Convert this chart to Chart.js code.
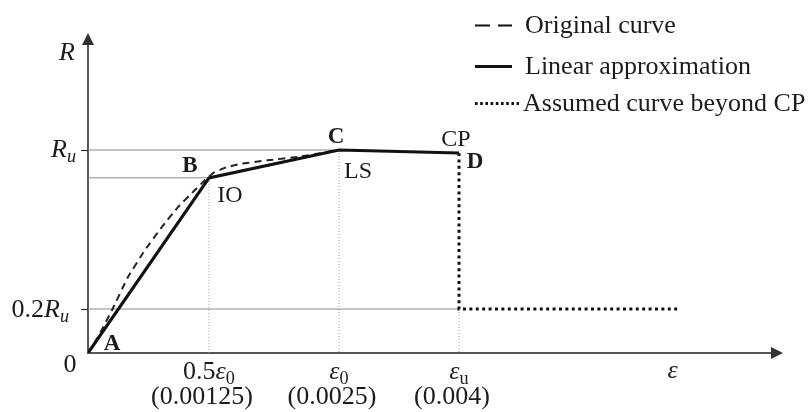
<!DOCTYPE html>
<html><head><meta charset="utf-8">
<script src="https://cdn.jsdelivr.net/npm/chart.js@4.4.1/dist/chart.umd.min.js"></script>
<style>html,body{margin:0;padding:0;background:#fff}#wrap{width:809px;height:412px;position:relative}</style>
</head><body><div id="wrap"><canvas id="c" width="809" height="412"></canvas></div>
<script>
// ---------------- data ----------------
const pointNames = ['A', 'B', 'C', 'D'];
const linearStrain = [0, 0.00125, 0.0025, 0.004];
const linearR = [0, 0.86, 1.0, 0.985];
const originalStrain = [0, 0.000103, 0.000248, 0.000413, 0.000589, 0.000764, 0.00093, 0.001105, 0.001209, 0.00129, 0.0014, 0.00155, 0.00181, 0.00213, 0.00232, 0.0025];
const originalR = [0, 0.073, 0.195, 0.361, 0.497, 0.613, 0.713, 0.799, 0.849, 0.884, 0.91, 0.93, 0.948, 0.967, 0.984, 1.0];
const assumedStrain = [0.004, 0.004, 0.0067];
const assumedR = [0.985, 0.2, 0.2];
const levelNames = ['IO', 'LS', 'CP'];           // at B, C, D
const xTickStrain = [0.00125, 0.0025, 0.004];
const xTickMain = [[['0.5', 'n'], ['ε', 'i'], ['0', 's']], [['ε', 'i'], ['0', 's']], [['ε', 'i'], ['u', 's']]];
const xTickSub = ['(0.00125)', '(0.0025)', '(0.004)'];
const yTickValues = [0.2, 1];
const yTickLabels = [[['0.2', 'n'], ['R', 'i'], ['u', 'si']], [['R', 'i'], ['u', 'si']]];
const legendLabels = ['Original curve', 'Linear approximation', 'Assumed curve beyond CP'];

// ---------------- schematic (piecewise-linear) scale ----------------
const knotMap = {
  x: { v: [0, 0.00125, 0.0025, 0.004, 0.008], f: [0, 121 / 695, 251 / 695, 371 / 695, 1] },
  y: { v: [0, 0.2, 1, 1.6], f: [0, 44 / 320, 203 / 320, 1] }
};
function interp(val, a, b) {
  let i = 0;
  while (i < a.length - 2 && val > a[i + 1]) i++;
  return b[i] + (val - a[i]) / (a[i + 1] - a[i]) * (b[i + 1] - b[i]);
}
class SchematicScale extends Chart.LinearScale {
  getPixelForValue(value) {
    const k = knotMap[this.id];
    return this.getPixelForDecimal(interp(value, k.v, k.f));
  }
  getValueForPixel(pixel) {
    const k = knotMap[this.id];
    return interp(this.getDecimalForPixel(pixel), k.f, k.v);
  }
}
SchematicScale.id = 'schematic';
SchematicScale.defaults = {};
Chart.register(SchematicScale);

// ---------------- helpers ----------------
const FONT = '"Liberation Serif", "Times New Roman", serif';
const INK = '#1c1c1c';
function fontFor(style, size) {
  const sub = style.includes('s');
  const sz = sub ? size * 0.7 : size;
  return (style.includes('i') ? 'italic ' : '') + (style.includes('b') ? 'bold ' : '') + sz.toFixed(1) + 'px ' + FONT;
}
function drawRich(ctx, segs, x, y, size, align) {
  let w = 0;
  segs.forEach(([t, s]) => { ctx.font = fontFor(s, size); w += ctx.measureText(t).width; });
  let cx = align === 'right' ? x - w : align === 'center' ? x - w / 2 : x;
  segs.forEach(([t, s]) => {
    ctx.font = fontFor(s, size);
    const dy = s.includes('s') ? size * 0.2 : 0;
    ctx.fillText(t, cx, y + dy);
    cx += ctx.measureText(t).width;
  });
}
const pts = (xs, ys) => xs.map((x, i) => ({ x, y: ys[i] }));
const GRAY = '#888';

const decor = {
  id: 'decor',
  beforeDatasetsDraw(chart) {
    const { ctx } = chart;
    const xs = chart.scales.x, ys = chart.scales.y;
    const x0 = xs.getPixelForValue(0), y0 = ys.getPixelForValue(0);
    ctx.save();
    ctx.strokeStyle = '#555'; ctx.fillStyle = '#333'; ctx.lineWidth = 2;
    ctx.beginPath(); ctx.moveTo(x0 - 1, y0); ctx.lineTo(xs.right - 12, y0); ctx.stroke();
    ctx.beginPath(); ctx.moveTo(xs.right - 12, y0 - 6); ctx.lineTo(xs.right, y0); ctx.lineTo(xs.right - 12, y0 + 6); ctx.closePath(); ctx.fill();
    ctx.beginPath(); ctx.moveTo(x0, y0 + 1); ctx.lineTo(x0, ys.top + 12); ctx.stroke();
    ctx.beginPath(); ctx.moveTo(x0 - 6, ys.top + 12); ctx.lineTo(x0, ys.top); ctx.lineTo(x0 + 6, ys.top + 12); ctx.closePath(); ctx.fill();
    // y tick marks
    ctx.lineWidth = 1.2; ctx.strokeStyle = '#333';
    yTickValues.forEach(v => {
      const py = Math.round(ys.getPixelForValue(v)) + 0.5;
      ctx.beginPath(); ctx.moveTo(x0 - 7, py); ctx.lineTo(x0, py); ctx.stroke();
    });
    ctx.restore();
  },
  afterDraw(chart) {
    const { ctx } = chart;
    const xs = chart.scales.x, ys = chart.scales.y;
    const x0 = xs.getPixelForValue(0), y0 = ys.getPixelForValue(0);
    ctx.save();
    ctx.fillStyle = INK; ctx.textBaseline = 'alphabetic'; ctx.textAlign = 'left';
    // axis titles
    drawRich(ctx, [['R', 'i']], x0 - 21, ys.top + 27, 26, 'center');
    drawRich(ctx, [['ε', 'i']], xs.getPixelForValue(0.0067) - 5, y0 + 25, 26, 'center');
    drawRich(ctx, [['0', 'n']], x0 - 18, y0 + 19, 26, 'center');
    // y tick labels
    const yOff = [{ dx: -19, dy: 8 }, { dx: -12, dy: 7 }];
    yTickValues.forEach((v, i) => {
      drawRich(ctx, yTickLabels[i], x0 + yOff[i].dx, ys.getPixelForValue(v) + yOff[i].dy, 26, 'right');
    });
    // x tick labels
    xTickStrain.forEach((v, i) => {
      const px = xs.getPixelForValue(v);
      drawRich(ctx, xTickMain[i], px, y0 + 26, 26, 'center');
      drawRich(ctx, [[xTickSub[i], 'n']], px - 7, y0 + 51, 26, 'center');
    });
    // point names
    const pOff = [{ dx: 24, dy: -3 }, { dx: -19, dy: -6 }, { dx: -3, dy: -7 }, { dx: 16, dy: 15 }];
    linearStrain.forEach((v, i) => {
      drawRich(ctx, [[pointNames[i], 'b']], xs.getPixelForValue(v) + pOff[i].dx, ys.getPixelForValue(linearR[i]) + pOff[i].dy, 23, 'center');
    });
    // performance levels
    const lOff = [{ dx: 21, dy: 24 }, { dx: 19, dy: 28 }, { dx: -3, dy: -7 }];
    levelNames.forEach((t, i) => {
      const k = i + 1;
      drawRich(ctx, [[t, 'n']], xs.getPixelForValue(linearStrain[k]) + lOff[i].dx, ys.getPixelForValue(linearR[k]) + lOff[i].dy, 24, 'center');
    });
    // legend
    const rows = [25, 66, 103];
    const dash = [[15, 8], [], [2.6, 2.6]];
    const widths = [2, 3, 3];
    const ends = [512, 512, 519];
    legendLabels.forEach((t, i) => {
      ctx.save();
      ctx.strokeStyle = '#111'; ctx.lineWidth = widths[i]; ctx.setLineDash(dash[i]); ctx.lineCap = 'butt';
      ctx.beginPath(); ctx.moveTo(475, rows[i] + 0.5); ctx.lineTo(ends[i], rows[i] + 0.5); ctx.stroke();
      ctx.restore();
      drawRich(ctx, [[t, 'n']], ends[i] === 519 ? 523 : 525, rows[i] + 8, 26, 'left');
    });
    ctx.restore();
  }
};

new Chart(document.getElementById('c').getContext('2d'), {
  type: 'line',
  data: {
    datasets: [
      { label: legendLabels[1], data: pts(linearStrain, linearR), borderColor: '#111', borderWidth: 3.2, pointRadius: 0, borderJoinStyle: 'miter', order: 1 },
      { label: legendLabels[2], data: pts(assumedStrain, assumedR), borderColor: '#111', borderWidth: 3, borderDash: [3, 3.4], pointRadius: 0, order: 1 },
      { label: legendLabels[0], data: pts(originalStrain, originalR), borderColor: '#222', borderWidth: 2, borderDash: [7, 5], tension: 0.1, pointRadius: 0, order: 2 },
      // reference lines
      { label: '', data: pts([0, linearStrain[2]], [linearR[2], linearR[2]]), borderColor: GRAY, borderWidth: 1, pointRadius: 0, order: 5 },
      { label: '', data: pts([0, linearStrain[1]], [linearR[1], linearR[1]]), borderColor: GRAY, borderWidth: 1, pointRadius: 0, order: 5 },
      { label: '', data: pts([0, assumedStrain[1]], [assumedR[1], assumedR[1]]), borderColor: GRAY, borderWidth: 1, pointRadius: 0, order: 5 },
      { label: '', data: pts([linearStrain[1], linearStrain[1]], [linearR[1], 0]), borderColor: '#999', borderWidth: 1, borderDash: [1, 2], pointRadius: 0, order: 5 },
      { label: '', data: pts([linearStrain[2], linearStrain[2]], [linearR[2], 0]), borderColor: '#999', borderWidth: 1, borderDash: [1, 2], pointRadius: 0, order: 5 },
      { label: '', data: pts([assumedStrain[1], assumedStrain[1]], [assumedR[1], 0]), borderColor: '#999', borderWidth: 1, borderDash: [1, 2], pointRadius: 0, order: 5 }
    ]
  },
  options: {
    responsive: false, animation: false, events: [],
    layout: { padding: { left: 88, right: 26, top: 33, bottom: 59 } },
    plugins: { legend: { display: false }, tooltip: { enabled: false } },
    scales: {
      x: { type: 'schematic', min: 0, max: 0.008, display: false },
      y: { type: 'schematic', min: 0, max: 1.6, display: false }
    }
  },
  plugins: [decor]
});
</script></body></html>
